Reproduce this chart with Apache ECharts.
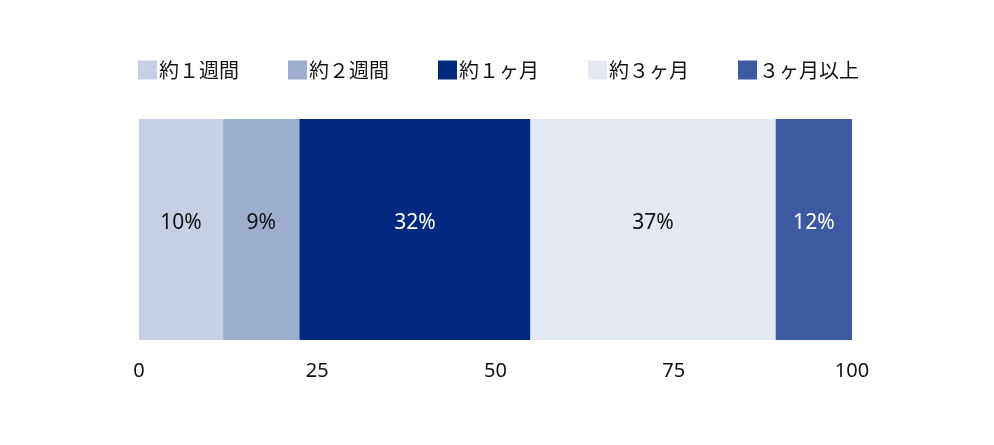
<!DOCTYPE html>
<html>
<head>
<meta charset="utf-8">
<script src="https://cdn.jsdelivr.net/npm/echarts@6/dist/echarts.min.js"></script>
<style>
  html, body { margin: 0; padding: 0; background: #ffffff; }
  #chart { width: 994px; height: 445px; }
</style>
</head>
<body>
<div id="chart"></div>
<script>
// Data
const categories = ['回答'];
const seriesNames = ['約１週間', '約２週間', '約１ヶ月', '約３ヶ月', '３ヶ月以上'];
// segment lengths as drawn (bar widths measured on the 0–100 axis)
const seriesValues = [11.8, 10.7, 32.4, 34.4, 10.7];
// percentage labels printed inside the segments
const labelTexts = ['10%', '9%', '32%', '37%', '12%'];
const tickLabels = [0, 25, 50, 75, 100];

const colors = ['#C7CFE2', '#9CADCE', '#002A80', '#E4E8F1', '#3C5AA1'];
const labelColors = ['#111111', '#111111', '#ffffff', '#111111', '#ffffff'];

const chart = echarts.init(document.getElementById('chart'), null, { renderer: 'canvas' });

const series = seriesNames.map((name, i) => ({
  name: name,
  type: 'bar',
  stack: 'total',
  barWidth: '100%',
  data: [seriesValues[i]],
  itemStyle: { color: colors[i] },
  emphasis: { disabled: true },
  label: {
    show: true,
    position: 'inside',
    offset: [0, -6],
    formatter: () => labelTexts[i],
    color: labelColors[i],
    fontSize: 21,
    fontFamily: 'Noto Sans',
    fontWeight: 'normal'
  }
}));

chart.setOption({
  animation: false,
  color: colors,
  legend: {
    data: seriesNames,
    left: 133,
    top: 55,
    itemWidth: 19,
    itemHeight: 19,
    itemGap: 49,
    icon: 'rect',
    textStyle: {
      fontSize: 20,
      fontFamily: 'Noto Sans CJK JP',
      color: '#111111',
      padding: [0, 0, 0, -3]
    }
  },
  grid: {
    left: 139,
    right: 142,
    top: 119,
    bottom: 105,
    containLabel: false
  },
  xAxis: {
    type: 'value',
    min: tickLabels[0],
    max: tickLabels[tickLabels.length - 1],
    interval: tickLabels[1] - tickLabels[0],
    axisLine: { show: false },
    axisTick: { show: false },
    splitLine: { show: false },
    axisLabel: {
      show: true,
      margin: 21,
      fontSize: 20,
      fontFamily: 'Noto Sans',
      color: '#111111'
    }
  },
  yAxis: {
    type: 'category',
    data: categories,
    axisLine: { show: false },
    axisTick: { show: false },
    axisLabel: { show: false },
    splitLine: { show: false }
  },
  series: series
});
</script>
</body>
</html>
